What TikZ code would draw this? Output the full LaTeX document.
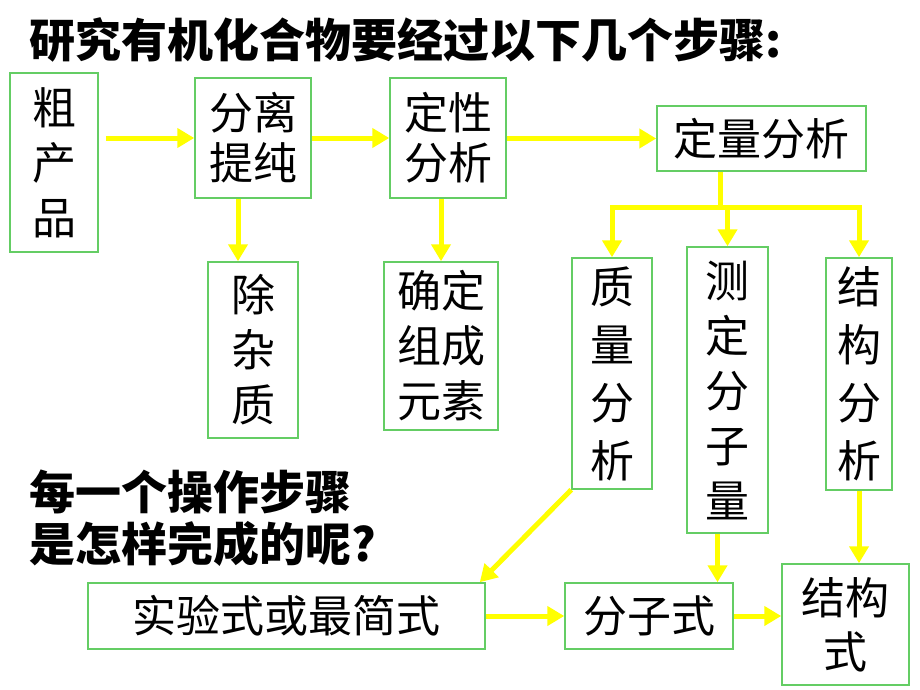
\documentclass[tikz,border=0pt]{standalone}
\usepackage{fontspec}
\setmainfont{Noto Sans CJK SC}
\usetikzlibrary{arrows.meta}
\definecolor{boxgreen}{RGB}{100,205,100}
\definecolor{flowyellow}{RGB}{255,255,0}
\newcommand{\bigcn}{\fontsize{44}{55}\selectfont}
\tikzset{
	stepbox/.style={draw=boxgreen, line width=1.5pt, inner sep=0pt, align=center, font=\bigcn},
	flow/.style={draw=flowyellow, line width=5pt, -{Triangle[width=19pt,length=17pt]}},
	trunk/.style={draw=flowyellow, line width=5pt}
}

\begin{document}
\begin{tikzpicture}[x=1pt, y=-1pt]

	\useasboundingbox (0,0) rectangle (920,690);

	% headings
	\node[anchor=west, font=\fontsize{46}{55}\selectfont\bfseries] (title) at (26,40) {研究有机化合物要经过以下几个步骤:};
	\node[anchor=north west, align=left, font=\fontsize{46}{52}\selectfont\bfseries] (ask) at (26,466) {每一个操作步骤\\是怎样完成的呢?};

	% first row
	\node[stepbox, minimum width=88pt, minimum height=179pt] (crude) at (54,162.5) {粗\\产\\品};
	\node[stepbox, minimum width=116pt, minimum height=120pt, font=\fontsize{44}{50}\selectfont] (sep) at (253,138) {分离\\提纯};
	\node[stepbox, minimum width=116pt, minimum height=120pt, font=\fontsize{44}{50}\selectfont] (qual) at (448,138) {定性\\分析};
	\node[stepbox, minimum width=209pt, minimum height=65pt] (quant) at (761.5,138.5) {定量分析};

	% second row
	\node[stepbox, minimum width=90pt, minimum height=176pt] (impur) at (253,350) {除\\杂\\质};
	\node[stepbox, minimum width=114pt, minimum height=168pt] (elem) at (441,346) {确定\\组成\\元素};
	\node[stepbox, minimum width=80pt, minimum height=231pt, font=\fontsize{44}{58}\selectfont] (mass) at (612,373.5) {质\\量\\分\\析};
	\node[stepbox, minimum width=81pt, minimum height=286pt] (molw) at (727.5,390) {测\\定\\分\\子\\量};
	\node[stepbox, minimum width=66pt, minimum height=232pt, font=\fontsize{44}{58}\selectfont] (struc) at (859,374) {结\\构\\分\\析};

	% third row
	\node[stepbox, minimum width=397pt, minimum height=66pt] (emp) at (286.5,616) {实验式或最简式};
	\node[stepbox, minimum width=168pt, minimum height=66pt] (molf) at (649,616) {分子式};
	\node[stepbox, minimum width=127pt, minimum height=121pt, font=\fontsize{44}{54}\selectfont] (sform) at (845.5,624.5) {结构\\式};

	% arrows
	\draw[flow, shorten <=7pt] (crude.east |- sep.west) -- (sep.west);
	\draw[flow] (sep) -- (qual);
	\draw[flow] (qual.east |- quant.west) -- (quant.west);
	\draw[flow] ([xshift=-15pt]sep.south) -- ([xshift=-15pt]sep.south |- impur.north);
	\draw[flow] (qual.south -| elem.north) -- (elem.north);

	\coordinate (fork) at (720,207);
	\draw[trunk] (quant.south -| fork) -- (fork);
	\draw[trunk, line cap=rect] (mass.north |- fork) -- (struc.north |- fork);
	\foreach \n in {mass, molw, struc}
		\draw[flow] (\n.north |- fork) -- (\n.north);
		; %end for \n

	\draw[flow] (mass.south west) -- ([xshift=-6pt]emp.north east);
	\draw[flow] ([xshift=-10pt]molw.south) -- ([xshift=-10pt]molw.south |- molf.north);
	\draw[flow] (struc.south) -- (struc.south |- sform.north);
	\draw[flow] (emp) -- (molf);
	\draw[flow] (molf.east) -- (molf.east -| sform.west);

\end{tikzpicture}
\end{document}
